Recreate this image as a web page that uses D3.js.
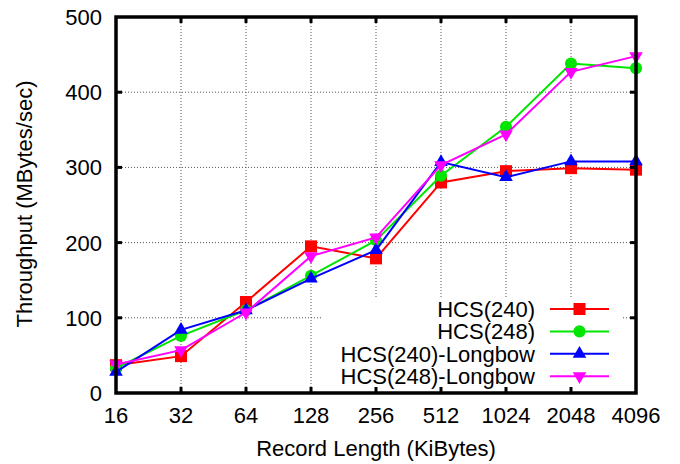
<!DOCTYPE html>
<html>
<head>
<meta charset="utf-8">
<script src="https://cdn.jsdelivr.net/npm/d3@7"></script>
<style>
  html, body { margin: 0; padding: 0; background: #fff; }
  svg { display: block; }
  text { font-family: "Liberation Sans", Arial, Helvetica, sans-serif; fill: #000; }
</style>
</head>
<body>
<svg id="chart" width="680" height="464"></svg>
<script>
// Record lengths (KiBytes) on a log2 axis
const recordLengths = [16, 32, 64, 128, 256, 512, 1024, 2048, 4096];
const yTicks = [0, 100, 200, 300, 400, 500];

// Throughput (MBytes/sec) per configuration
const hcs240 =        [37, 49, 121, 195, 179, 280, 295, 299, 297];
const hcs248 =        [33, 76, 110, 156, 203, 289, 354, 438, 432];
const hcs240Longbow = [28, 84, 110, 152, 190, 307, 287, 308, 308];
const hcs248Longbow = [38, 57, 107, 182, 207, 303, 344, 427, 448];

const seriesNames = ["HCS(240)", "HCS(248)", "HCS(240)-Longbow", "HCS(248)-Longbow"];
const seriesValues = [hcs240, hcs248, hcs240Longbow, hcs248Longbow];
const seriesColors = ["#ff0000", "#00e600", "#0000ff", "#ff00ff"];
const seriesSymbols = ["square", "circle", "triangleUp", "triangleDown"];

const svg = d3.select("#chart");
const plotLeft = 116, plotRight = 636, plotTop = 17, plotBottom = 393;

const x = d3.scaleLog().base(2).domain([16, 4096]).range([plotLeft, plotRight]);
const y = d3.scaleLinear().domain([0, 500]).range([plotBottom, plotTop]);

// Legend box area (opaque, hides the grid behind it)
const legendBox = { x0: 322, x1: 622, y0: 298, y1: plotBottom };

// Grid
const grid = svg.append("g")
  .attr("stroke", "#555").attr("stroke-width", 1).attr("stroke-dasharray", "1,2");
grid.selectAll("line.gx").data(recordLengths.slice(1, -1)).join("line")
  .attr("x1", d => x(d)).attr("x2", d => x(d))
  .attr("y1", plotTop).attr("y2", plotBottom);
grid.selectAll("line.gy").data(yTicks.slice(1, -1)).join("line")
  .attr("x1", plotLeft).attr("x2", plotRight)
  .attr("y1", d => y(d)).attr("y2", d => y(d));

svg.append("rect")
  .attr("x", legendBox.x0).attr("y", legendBox.y0)
  .attr("width", legendBox.x1 - legendBox.x0).attr("height", legendBox.y1 - legendBox.y0)
  .attr("fill", "#fff");

// Symbol drawing helper
function symbolPath(kind) {
  if (kind === "square") return d3.symbol(d3.symbolSquare, 144)();
  if (kind === "circle") return d3.symbol(d3.symbolCircle, 115)();
  return d3.symbol(d3.symbolTriangle, 80)();
}
function drawMarker(g, kind, color, cx, cy) {
  const p = g.append("path")
    .attr("d", symbolPath(kind))
    .attr("fill", color);
  if (kind === "triangleDown") p.attr("transform", `translate(${cx},${cy}) rotate(180)`);
  else p.attr("transform", `translate(${cx},${cy})`);
}

// Series lines and markers
const line = d3.line().x(d => x(d[0])).y(d => y(d[1]));
const plot = svg.append("g");
seriesValues.forEach((vals, i) => {
  const pts = recordLengths.map((r, j) => [r, vals[j]]);
  plot.append("path")
    .attr("d", line(pts))
    .attr("fill", "none")
    .attr("stroke", seriesColors[i])
    .attr("stroke-width", 2);
  pts.forEach(p => drawMarker(plot, seriesSymbols[i], seriesColors[i], x(p[0]), y(p[1])));
});

// Frame and mirrored ticks
const frame = svg.append("g").attr("stroke", "#000");
frame.append("rect")
  .attr("x", plotLeft).attr("y", plotTop)
  .attr("width", plotRight - plotLeft).attr("height", plotBottom - plotTop)
  .attr("fill", "none").attr("stroke-width", 3.5);
const tickLen = 6;
recordLengths.slice(1, -1).forEach(r => {
  frame.append("line").attr("x1", x(r)).attr("x2", x(r))
    .attr("y1", plotBottom).attr("y2", plotBottom - tickLen).attr("stroke-width", 3);
  frame.append("line").attr("x1", x(r)).attr("x2", x(r))
    .attr("y1", plotTop).attr("y2", plotTop + tickLen).attr("stroke-width", 3);
});
yTicks.slice(1, -1).forEach(v => {
  frame.append("line").attr("x1", plotLeft).attr("x2", plotLeft + tickLen)
    .attr("y1", y(v)).attr("y2", y(v)).attr("stroke-width", 3);
  frame.append("line").attr("x1", plotRight).attr("x2", plotRight - tickLen)
    .attr("y1", y(v)).attr("y2", y(v)).attr("stroke-width", 3);
});

// Tick labels
const fontSize = 22;
svg.append("g").selectAll("text").data(recordLengths).join("text")
  .attr("x", d => x(d)).attr("y", 423)
  .attr("text-anchor", "middle").attr("font-size", fontSize)
  .text(d => d);
svg.append("g").selectAll("text").data(yTicks).join("text")
  .attr("x", 102).attr("y", d => y(d)).attr("dy", "0.36em")
  .attr("text-anchor", "end").attr("font-size", fontSize)
  .text(d => d);

// Axis titles
svg.append("text")
  .attr("x", 376).attr("y", 456)
  .attr("text-anchor", "middle").attr("font-size", fontSize)
  .text("Record Length (KiBytes)");
svg.append("text")
  .attr("transform", "translate(32,204) rotate(-90)")
  .attr("text-anchor", "middle").attr("font-size", fontSize)
  .text("Throughput (MBytes/sec)");

// Legend
const legend = svg.append("g");
seriesNames.forEach((name, i) => {
  const ly = 309 + i * 22.4;
  legend.append("text")
    .attr("x", 535).attr("y", ly).attr("dy", "0.36em")
    .attr("text-anchor", "end").attr("font-size", fontSize)
    .text(name);
  legend.append("line")
    .attr("x1", 550).attr("x2", 609).attr("y1", ly).attr("y2", ly)
    .attr("stroke", seriesColors[i]).attr("stroke-width", 2);
  drawMarker(legend, seriesSymbols[i], seriesColors[i], 579.5, ly);
});
</script>
</body>
</html>
